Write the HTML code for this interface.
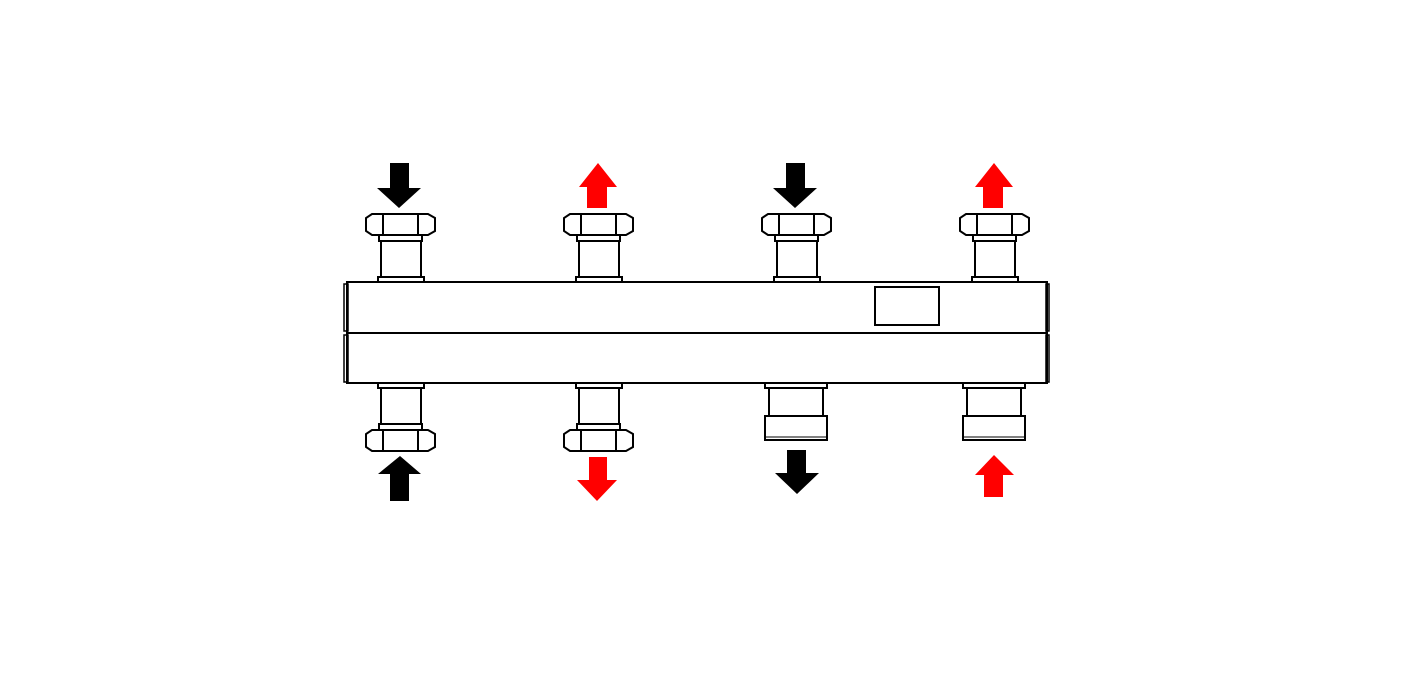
<!DOCTYPE html>
<html><head><style>html,body{margin:0;padding:0;background:#fff}</style></head><body>
<svg width="1416" height="672" viewBox="0 0 1416 672" xmlns="http://www.w3.org/2000/svg">
<rect width="1416" height="672" fill="#fff"/>
<g fill="none" stroke="#000" stroke-width="2">
<rect x="347" y="282" width="700" height="51"/>
<rect x="347" y="333" width="700" height="50"/>
<rect x="344" y="284" width="4" height="47" stroke-width="1.5"/>
<rect x="344" y="335" width="4" height="47" stroke-width="1.5"/>
<rect x="1046" y="284" width="3" height="47" stroke-width="1.5"/>
<rect x="1046" y="335" width="3" height="47" stroke-width="1.5"/>
<rect x="875" y="287" width="64" height="38"/>
</g>
<defs>
<g id="topfit" fill="#fff" stroke="#000" stroke-width="2">
<rect x="-19" y="241" width="40" height="36"/>
<rect x="-22" y="277" width="46" height="5"/>
<rect x="-21" y="235" width="43" height="6"/>
<path d="M-28 214 H28 L35 218 V231 L28 235 H-28 L-34 231 V218 Z"/>
<line x1="-17" y1="214" x2="-17" y2="235"/>
<line x1="18" y1="214" x2="18" y2="235"/>
</g>
<g id="botfit" fill="#fff" stroke="#000" stroke-width="2">
<rect x="-22" y="383" width="46" height="5"/>
<rect x="-19" y="388" width="40" height="36"/>
<rect x="-21" y="424" width="43" height="6"/>
<path d="M-28 430 H28 L35 434 V447 L28 451 H-28 L-34 447 V434 Z"/>
<line x1="-17" y1="430" x2="-17" y2="451"/>
<line x1="18" y1="430" x2="18" y2="451"/>
</g>
<g id="botfit2" fill="#fff" stroke="#000" stroke-width="2">
<rect x="-31" y="383" width="62" height="5"/>
<rect x="-27" y="388" width="54" height="28"/>
<rect x="-31" y="416" width="62" height="24"/>
<line x1="-31" y1="437" x2="31" y2="437" stroke-width="1"/>
</g>
</defs>
<use href="#topfit" x="400"/>
<use href="#topfit" x="598"/>
<use href="#topfit" x="796"/>
<use href="#topfit" x="994"/>
<use href="#botfit" x="400"/>
<use href="#botfit" x="598"/>
<use href="#botfit2" x="796"/>
<use href="#botfit2" x="994"/>
<!-- arrows -->
<path d="M390 163 H409 V188 H421 L399 208 L377 188 H390 Z" fill="#000"/>
<path d="M786 163 H805 V188 H817 L795 208 L773 188 H786 Z" fill="#000"/>
<path d="M598 163 L617 187 H607 V208 H587 V187 H579 Z" fill="#f00"/>
<path d="M994 163 L1013 187 H1003 V208 H983 V187 H975 Z" fill="#f00"/>
<path d="M400 456 L421 474 H409 V501 H390 V474 H378 Z" fill="#000"/>
<path d="M589 457 H607 V480 H617 L597 501 L577 480 H589 Z" fill="#f00"/>
<path d="M787 450 H806 V473 H819 L797 494 L775 473 H787 Z" fill="#000"/>
<path d="M994 455 L1014 475 H1003 V497 H984 V475 H975 Z" fill="#f00"/>
</svg>
</body></html>
